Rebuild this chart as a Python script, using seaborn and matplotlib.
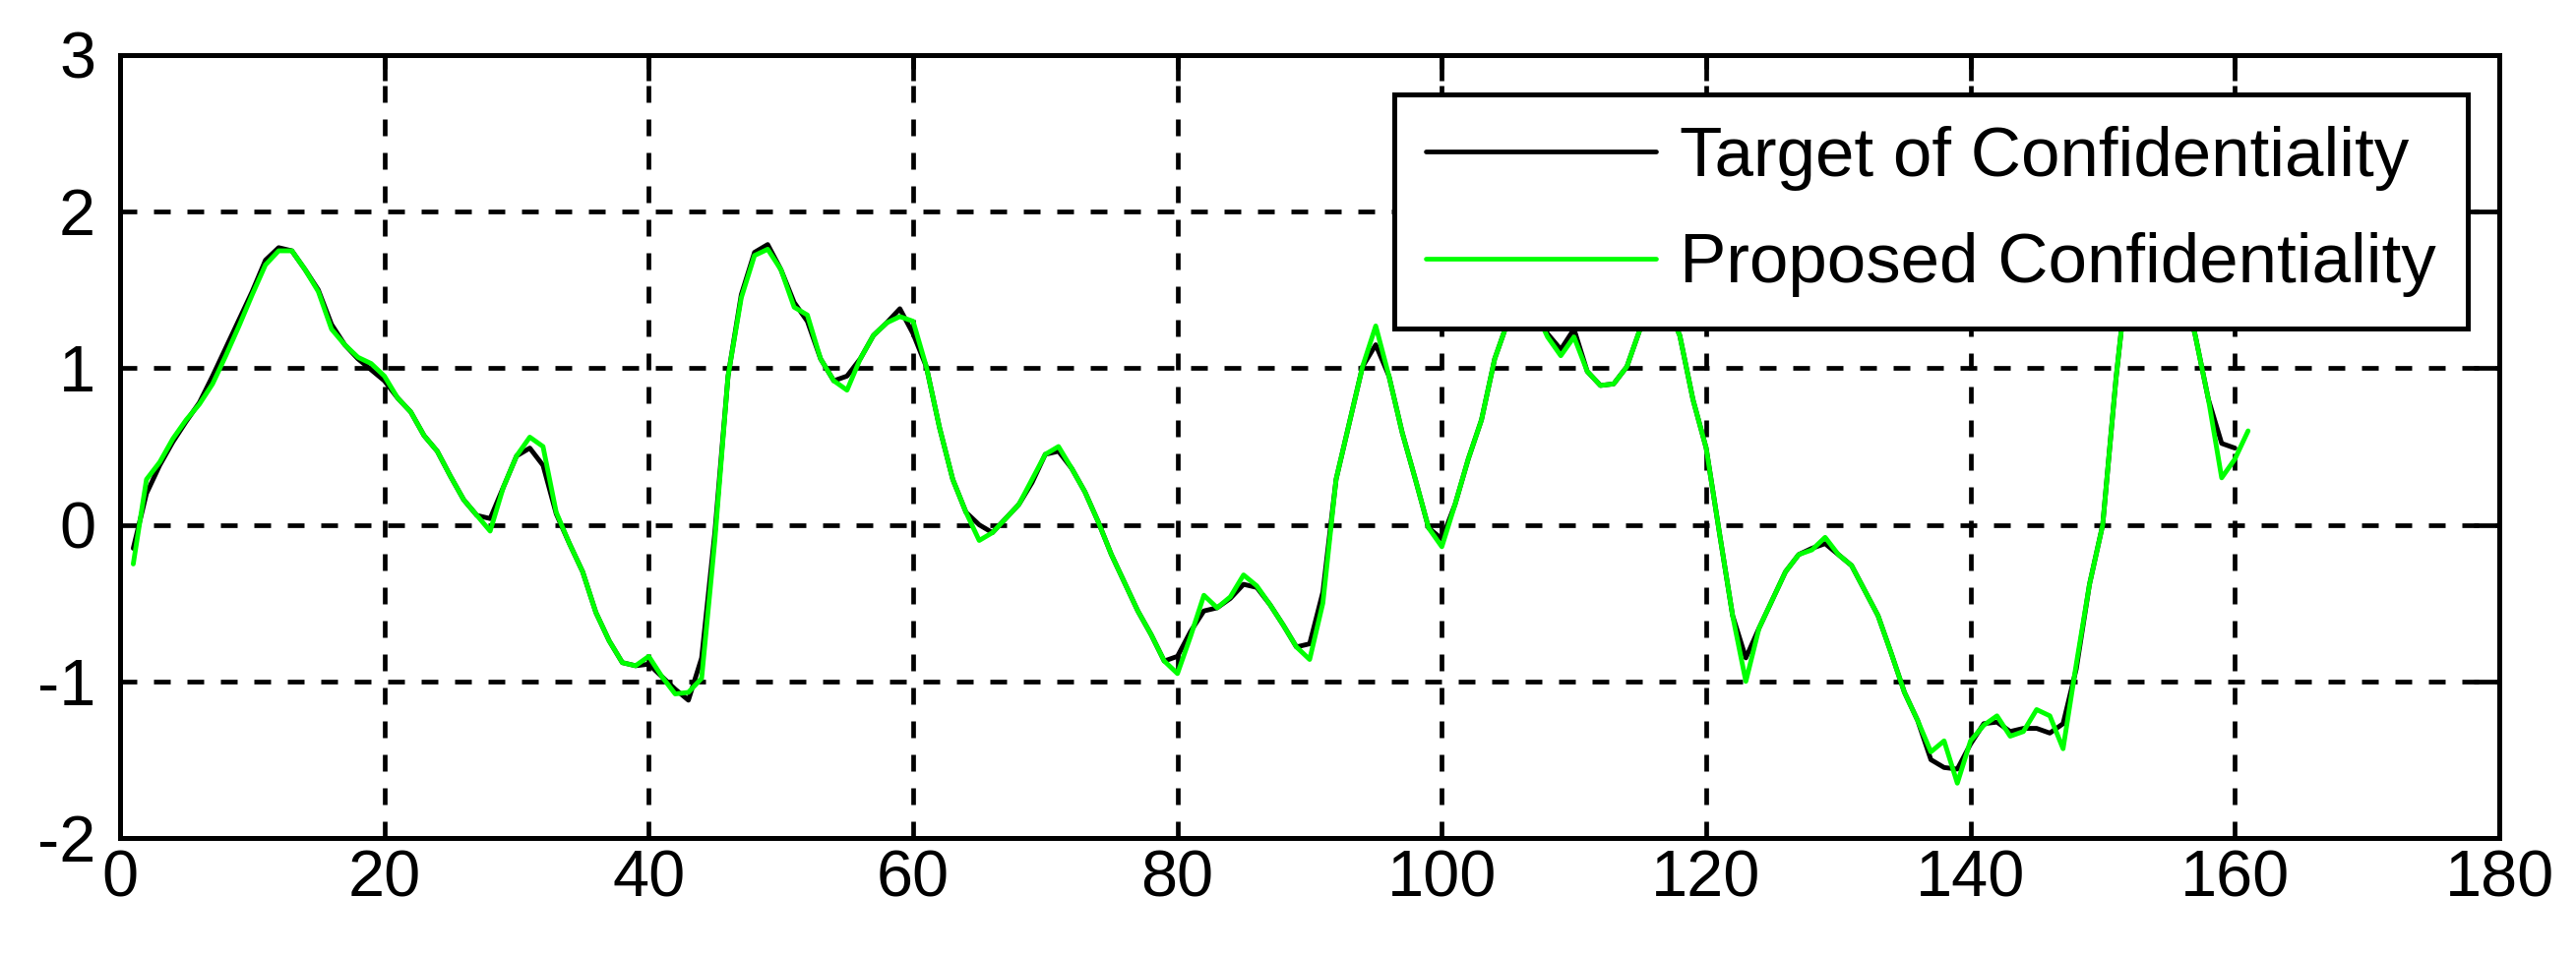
import matplotlib
matplotlib.use("Agg")
import matplotlib.pyplot as plt
from matplotlib import font_manager
import seaborn as sns


# values, one per sample (x = 1, 2, 3, ...)
target = [
    -0.15, 0.20, 0.38, 0.53, 0.66, 0.78, 0.95, 1.13, 1.31, 1.49,
    1.69, 1.77, 1.75, 1.63, 1.50, 1.28, 1.15, 1.06, 0.99, 0.92,
    0.81, 0.72, 0.57, 0.47, 0.31, 0.16, 0.06, 0.04, 0.24, 0.44,
    0.49, 0.38, 0.07, -0.12, -0.30, -0.56, -0.74, -0.88, -0.90, -0.89,
    -0.97, -1.05, -1.12, -0.85, -0.05, 0.95, 1.47, 1.74, 1.79, 1.63,
    1.42, 1.30, 1.06, 0.92, 0.95, 1.06, 1.21, 1.29, 1.38, 1.22,
    1.01, 0.62, 0.29, 0.08, 0.00, -0.05, 0.04, 0.13, 0.27, 0.45,
    0.47, 0.36, 0.21, 0.02, -0.19, -0.37, -0.55, -0.70, -0.87, -0.84,
    -0.68, -0.55, -0.53, -0.47, -0.38, -0.40, -0.51, -0.64, -0.78, -0.76,
    -0.43, 0.29, 0.65, 1.01, 1.15, 0.95, 0.59, 0.29, -0.02, -0.09,
    0.13, 0.42, 0.67, 1.06, 1.30, 1.45, 1.38, 1.22, 1.12, 1.25,
    0.98, 0.89, 0.90, 1.01, 1.25, 1.45, 1.40, 1.21, 0.80, 0.49,
    -0.05, -0.58, -0.85, -0.66, -0.48, -0.30, -0.19, -0.15, -0.12, -0.19,
    -0.26, -0.42, -0.58, -0.82, -1.07, -1.25, -1.50, -1.55, -1.56, -1.40,
    -1.27, -1.26, -1.32, -1.30, -1.30, -1.33, -1.27, -0.92, -0.38, 0.00,
    0.93, 1.70, 2.00, 2.10, 1.90, 1.55, 1.21, 0.80, 0.52, 0.49,
]

proposed = [
    -0.25, 0.29, 0.40, 0.55, 0.67, 0.77, 0.90, 1.08, 1.27, 1.47,
    1.66, 1.75, 1.75, 1.63, 1.49, 1.25, 1.15, 1.07, 1.03, 0.95,
    0.81, 0.72, 0.57, 0.47, 0.31, 0.16, 0.06, -0.04, 0.24, 0.44,
    0.56, 0.50, 0.08, -0.12, -0.30, -0.56, -0.74, -0.88, -0.90, -0.84,
    -0.97, -1.08, -1.07, -0.98, -0.10, 0.95, 1.45, 1.72, 1.76, 1.63,
    1.39, 1.34, 1.06, 0.92, 0.86, 1.06, 1.21, 1.29, 1.33, 1.30,
    1.01, 0.62, 0.29, 0.08, -0.10, -0.05, 0.04, 0.13, 0.29, 0.45,
    0.50, 0.36, 0.21, 0.02, -0.19, -0.37, -0.55, -0.70, -0.87, -0.95,
    -0.71, -0.45, -0.53, -0.46, -0.32, -0.39, -0.51, -0.64, -0.78, -0.86,
    -0.50, 0.29, 0.65, 1.01, 1.27, 0.95, 0.59, 0.29, -0.02, -0.14,
    0.13, 0.42, 0.67, 1.06, 1.30, 1.45, 1.38, 1.20, 1.08, 1.20,
    0.98, 0.89, 0.90, 1.01, 1.25, 1.45, 1.40, 1.21, 0.80, 0.49,
    -0.05, -0.58, -1.00, -0.66, -0.48, -0.30, -0.19, -0.16, -0.08, -0.19,
    -0.26, -0.42, -0.58, -0.82, -1.07, -1.25, -1.45, -1.38, -1.65, -1.38,
    -1.28, -1.22, -1.35, -1.32, -1.18, -1.22, -1.43, -0.89, -0.38, 0.00,
    0.93, 1.70, 2.00, 2.10, 1.90, 1.55, 1.21, 0.80, 0.30, 0.42,
    0.60,
]

x_target = list(range(1, len(target) + 1))
x_proposed = list(range(1, len(proposed) + 1))

x_ticks = [0, 20, 40, 60, 80, 100, 120, 140, 160, 180]
y_ticks = [-2, -1, 0, 1, 2, 3]
series_labels = ["Target of Confidentiality", "Proposed Confidentiality"]


def main():
    sns.set_style("white")
    names = {f.name for f in font_manager.fontManager.ttflist}
    tick_font = "Liberation Sans Narrow" if "Liberation Sans Narrow" in names else "Liberation Sans"
    plt.rcParams["font.family"] = ["Liberation Sans", "DejaVu Sans"]
    plt.rcParams["axes.unicode_minus"] = False
    plt.rcParams["text.color"] = "black"

    W, H = 2618, 972
    fig = plt.figure(figsize=(W / 100, H / 100), dpi=100)
    fig.patch.set_facecolor("white")
    ax = fig.add_axes([122 / W, 1 - 852 / H, (2540 - 122) / W, (852 - 56) / H])

    sns.lineplot(x=x_target, y=target, color="black", linewidth=3.5,
                 label=series_labels[0], ax=ax)
    sns.lineplot(x=x_proposed, y=proposed, color="#00ff00", linewidth=3.5,
                 label=series_labels[1], ax=ax)

    ax.set_xlim(0, 180)
    ax.set_ylim(-2, 3)
    ax.set_xticks(x_ticks)
    ax.set_yticks(y_ticks)
    ax.set_xlabel("")
    ax.set_ylabel("")

    # matlab-ish dashed black grid, inward ticks on all sides
    ax.set_axisbelow(True)
    ax.grid(True, color="black", linestyle=(0, (3.6, 3.6)), linewidth=3.4)
    ax.tick_params(direction="in", length=19, width=3.4, top=True, right=True,
                   labelsize=48, colors="black")
    ax.tick_params(axis="x", pad=8)
    ax.tick_params(axis="y", pad=18)
    for lbl in ax.get_xticklabels() + ax.get_yticklabels():
        lbl.set_fontfamily(tick_font)
    for s in ax.spines.values():
        s.set_visible(True)
        s.set_linewidth(3.6)
        s.set_color("black")

    leg = ax.legend(loc="upper right", bbox_to_anchor=(0.9868, 0.9497),
                    borderaxespad=0, fontsize=51, handlelength=3.3,
                    handletextpad=0.35, borderpad=0.45, labelspacing=0.6,
                    fancybox=False, framealpha=1, edgecolor="black",
                    labelcolor="black")
    leg.get_frame().set_linewidth(3.6)
    for line in leg.get_lines():
        line.set_linewidth(3.4)

    fig.savefig("out.png", dpi=100, facecolor="white")


if __name__ == "__main__":
    main()
